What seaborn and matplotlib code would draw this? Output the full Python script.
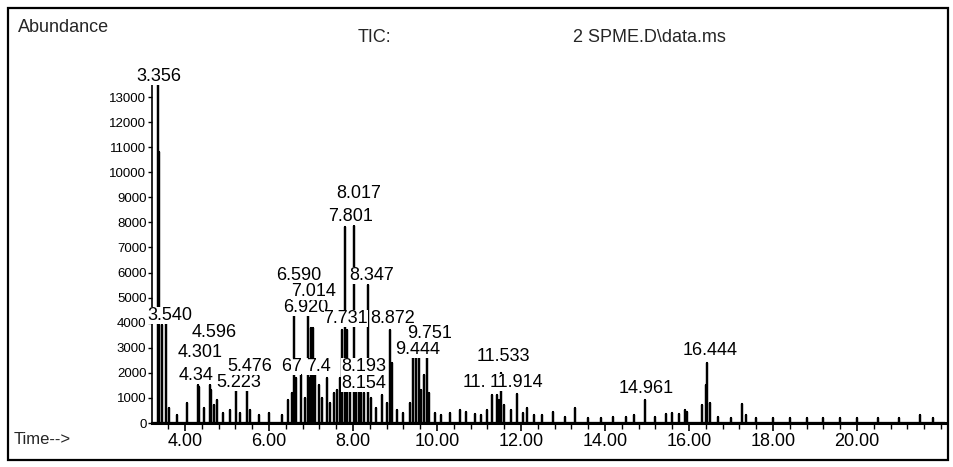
import numpy as np
import pandas as pd
import matplotlib
matplotlib.use("Agg")
import matplotlib.pyplot as plt
from matplotlib.ticker import MultipleLocator
import seaborn as sns

# ---- data ----
peak_times = [3.356, 3.39, 3.45, 3.54, 3.62, 3.80, 4.05, 4.30, 4.34, 4.45, 4.59, 4.62,
              4.68, 4.76, 4.90, 5.07, 5.22, 5.30, 5.48, 5.55, 5.75, 6.00, 6.30, 6.45,
              6.55, 6.59, 6.65, 6.75, 6.85, 6.92, 6.96, 7.01, 7.05, 7.10, 7.18, 7.25,
              7.38, 7.45, 7.55, 7.62, 7.70, 7.73, 7.80, 7.86, 7.93, 8.02, 8.08, 8.15,
              8.19, 8.26, 8.35, 8.42, 8.55, 8.70, 8.80, 8.87, 8.92, 9.05, 9.20, 9.35,
              9.44, 9.50, 9.56, 9.62, 9.68, 9.75, 9.80, 9.95, 10.10, 10.30, 10.55, 10.70,
              10.90, 11.05, 11.20, 11.31, 11.43, 11.47, 11.53, 11.60, 11.75, 11.91, 12.05,
              12.14, 12.30, 12.50, 12.76, 13.05, 13.29, 13.60, 13.90, 14.20, 14.50, 14.70,
              14.96, 15.20, 15.45, 15.60, 15.75, 15.90, 15.95, 16.30, 16.40, 16.44, 16.50,
              16.70, 17.00, 17.27, 17.35, 17.60, 18.00, 18.40, 18.80, 19.20, 19.60, 20.00,
              20.50, 21.00, 21.50, 21.80]
peak_heights = [13480, 10800, 3900, 4000, 600, 300, 800, 1500, 1450, 600, 1500, 1300,
                700, 900, 400, 500, 1400, 400, 1400, 500, 300, 400, 300, 900,
                1200, 4600, 1800, 1900, 1000, 4500, 1800, 3800, 3800, 1900, 1500, 1000,
                1800, 800, 1200, 1300, 1800, 3700, 7800, 3700, 1800, 7850, 1500, 1800,
                1800, 1200, 5500, 1000, 600, 1100, 800, 3700, 2400, 500, 400, 800,
                2600, 2800, 2700, 1300, 1900, 2800, 1200, 400, 300, 400, 500, 450,
                350, 300, 500, 1100, 1100, 900, 2000, 700, 500, 1150, 400,
                600, 300, 300, 450, 250, 600, 200, 200, 250, 250, 300,
                900, 250, 350, 400, 350, 500, 450, 700, 1500, 2400, 800,
                250, 200, 750, 300, 200, 200, 200, 200, 200, 200, 200,
                200, 200, 300, 200]

# peak labels as they appear (some are partly covered by later labels in the print)
label_texts = ["3.356", "3.540", "4.596", "4.301", "4.34", "5.223", "5.476",
               "6.590", "6.920", "7.014", "6", "7", "7.4", "8.154", "8.193",
               "7.731", "8.872", "7.801", "8.017", "8.347", "9.444", "9.751",
               "11.", "11.914", "11.533", "14.961", "16.444"]
label_times = [3.38, 3.63, 4.69, 4.36, 4.26, 5.29, 5.55,
               6.71, 6.88, 7.05, 6.40, 6.64, 7.17, 8.26, 8.26,
               7.83, 8.95, 7.93, 8.14, 8.45, 9.55, 9.83,
               10.90, 11.90, 11.57, 14.97, 16.50]
label_heights = [13835, 4270, 3590, 2830, 1910, 1630, 2270,
                 5900, 4625, 5260, 2270, 2270, 2270, 1595, 2270,
                 4150, 4150, 8250, 9170, 5900, 2950, 3550,
                 1630, 1630, 2670, 1360, 2910]

x_tick_values = [4, 6, 8, 10, 12, 14, 16, 18, 20]
x_tick_labels = ["4.00", "6.00", "8.00", "10.00", "12.00", "14.00", "16.00", "18.00", "20.00"]
y_tick_values = [0, 1000, 2000, 3000, 4000, 5000, 6000, 7000, 8000, 9000, 10000,
                 11000, 12000, 13000]
time_range = [3.214, 22.095]
abundance_range = [0, 13480]

# ---- style ----
sns.set_theme(style="white")
plt.rcParams['font.family'] = ['Liberation Sans', 'DejaVu Sans']

W, H = 954, 467
fig = plt.figure(figsize=(W / 100, H / 100), dpi=100)
ax = fig.add_axes([152 / W, 44 / H, 793 / W, 338 / H])

rows = [(time_range[0], 0)]
for t, h in sorted(zip(peak_times, peak_heights)):
    rows += [(t, 0), (t, h), (t, 0)]
rows.append((time_range[1], 0))
df = pd.DataFrame(rows, columns=["time", "abundance"])

sns.lineplot(data=df, x="time", y="abundance", estimator=None, sort=False,
             color="black", lw=1.6, ax=ax, clip_on=False)

ax.set_xlim(*time_range)
ax.set_ylim(*abundance_range)
ax.set_xlabel("")
ax.set_ylabel("")
ax.set_facecolor("white")

for s in ["top", "right"]:
    ax.spines[s].set_visible(False)
ax.spines["left"].set_color("black")
ax.spines["left"].set_linewidth(1.2)
ax.spines["bottom"].set_color("black")
ax.spines["bottom"].set_linewidth(2.2)

ax.set_xticks(x_tick_values)
ax.set_xticklabels(x_tick_labels)
ax.xaxis.set_minor_locator(MultipleLocator(0.4))
ax.set_yticks(y_tick_values)
ax.set_yticklabels([str(v) for v in y_tick_values])

ax.tick_params(axis="x", which="major", bottom=True, direction="out", length=6,
               width=1.2, pad=1, labelsize=13, colors="black")
ax.tick_params(axis="x", which="minor", bottom=True, direction="out", length=4,
               width=1.0, colors="black")
ax.tick_params(axis="y", which="major", left=True, direction="out", length=3,
               width=1.0, pad=1, labelsize=9.5, colors="black")

for i, (s, t, y) in enumerate(zip(label_texts, label_times, label_heights)):
    ax.text(t, y, s, ha="center", va="center", fontsize=13, color="black",
            bbox=dict(fc="white", ec="none", pad=0), zorder=5 + i * 0.01,
            clip_on=False)

fig.text(18 / W, 1 - 27 / H, "Abundance", ha="left", va="center", fontsize=13)
fig.text(358 / W, 1 - 38 / H, "TIC:", ha="left", va="center", fontsize=13)
fig.text(573 / W, 1 - 38 / H, "2 SPME.D\\data.ms", ha="left", va="center", fontsize=13)
fig.text(14 / W, 1 - 440 / H, "Time-->", ha="left", va="center", fontsize=12)

fig.add_artist(plt.Rectangle((8 / W, 1 - 460 / H), 940 / W, 452 / H,
                             transform=fig.transFigure, fill=False, lw=1.6,
                             ec="black"))

fig.savefig("out.png", dpi=100, facecolor="white")
